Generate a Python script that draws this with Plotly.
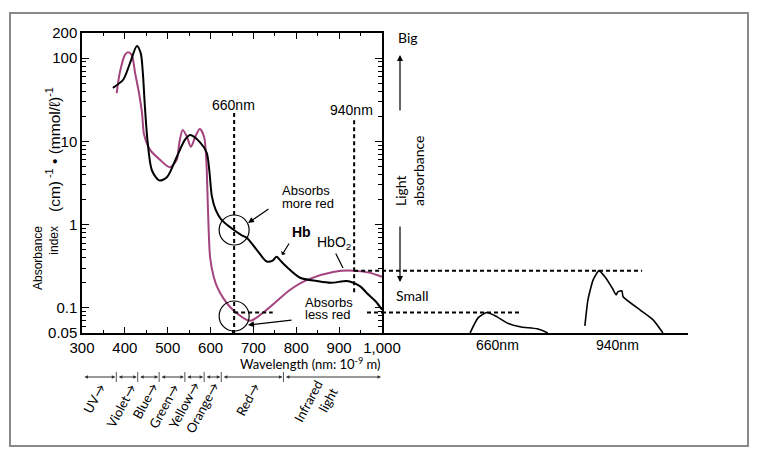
import math
import plotly.graph_objects as go

# ---------------- data ----------------
hb_wl = [372, 396, 412, 428, 437, 442, 447, 453, 463, 480, 498, 521, 540, 552, 575, 591, 597, 603, 612,
         625, 652, 672, 685, 710, 731, 745, 754, 765, 778, 809, 848, 880, 918, 933, 950, 965, 985, 1000]
hb_val = [44, 55, 87, 140, 115, 66, 25, 10, 4.5, 3.4, 3.7, 6.5, 10.4, 11.9, 9.8, 7.3, 4.5, 2.2, 1.5,
          1.15, 0.88, 0.75, 0.69, 0.48, 0.36, 0.37, 0.41, 0.36, 0.31, 0.23, 0.21, 0.2, 0.21, 0.2, 0.18, 0.15, 0.12, 0.095]

hbo2_wl = [381, 388, 400, 407, 416, 424, 433, 440, 445, 459, 482, 505, 521, 527, 535, 545, 554, 566, 575, 585,
           590, 594, 599, 607, 615, 630, 652, 692, 731, 785, 825, 886, 932, 970, 1000]
hbo2_val = [38, 66, 109, 118, 109, 66, 38, 22, 12, 7.9, 6.0, 4.9, 6.0, 9.6, 13.7, 11.3, 8.6, 11.9, 14.1, 11.3,
            6.0, 1.5, 0.40, 0.24, 0.18, 0.13, 0.095, 0.070, 0.095, 0.164, 0.217, 0.27, 0.28, 0.265, 0.236]

# emitted-light sketches (relative position 0-100 on the right-hand panel, absorbance-scale height)
led660_x = [28.8, 31.4, 34.3, 37.6, 40.8, 45.1, 50.7, 54.2]
led660_y = [0.05, 0.0758, 0.088, 0.078, 0.066, 0.0592, 0.056, 0.05]
led940_x = [66.3, 67.3, 69.0, 70.9, 72.9, 75.2, 76.5, 77.1, 78.4, 78.8, 84.3, 88.6, 91.8]
led940_y = [0.0608, 0.125, 0.217, 0.28, 0.235, 0.174, 0.143, 0.156, 0.160, 0.136, 0.0946, 0.0718, 0.05]

red_wl = 655
ir_wl = 935
red_level = 0.088
ir_level = 0.28

x_ticks = [300, 400, 500, 600, 700, 800, 900, 1000]
x_ticktext = ['300', '400', '500', '600', '700', '800', '900', '1,000']
y_ticks = [0.05, 0.1, 1, 10, 100, 200]
y_ticktext = ['0.05', '0.1', '1', '10', '100', '200']

band_edges = [300, 380, 430, 480, 540, 585, 625, 770, 1000]
band_labels = ['UV→', 'Violet→', 'Blue→', 'Green→', 'Yellow→', 'Orange→', 'Red→', 'Infrared<br>light']
band_label_x = [328, 391, 447, 491, 538, 580, 687, 844]
band_label_y = [399, 406, 401, 406, 405, 408, 399, 405]

W, H = 760, 460
def px(x): return x / W
def py(y): return 1 - y / H

ARIAL = 'Liberation Sans'
CAL = 'Lato'
MAG = '#a3427e'

fig = go.Figure()

fig.add_trace(go.Scatter(x=hbo2_wl, y=hbo2_val, mode='lines', line=dict(color=MAG, width=2, shape='spline', smoothing=0.8),
                         hoverinfo='skip'))
fig.add_trace(go.Scatter(x=hb_wl, y=hb_val, mode='lines', line=dict(color='black', width=2, shape='spline', smoothing=0.8),
                         hoverinfo='skip'))

dash = dict(color='black', width=2, dash='4px,3px')
fig.add_trace(go.Scatter(x=[red_wl, red_wl], y=[22, 0.05], mode='lines', line=dash, hoverinfo='skip'))
fig.add_trace(go.Scatter(x=[ir_wl, ir_wl], y=[18, 0.143], mode='lines', line=dash, hoverinfo='skip'))
fig.add_trace(go.Scatter(x=[red_wl, 745], y=[red_level, red_level], mode='lines', line=dash, hoverinfo='skip'))
fig.add_trace(go.Scatter(x=[965, 1000], y=[red_level, red_level], mode='lines', line=dash, hoverinfo='skip'))
fig.add_trace(go.Scatter(x=[ir_wl, 1000], y=[ir_level, ir_level], mode='lines', line=dash, hoverinfo='skip'))
fig.add_trace(go.Scatter(x=[0, 45.1], y=[red_level, red_level], xaxis='x2', yaxis='y', mode='lines', line=dash, hoverinfo='skip'))
fig.add_trace(go.Scatter(x=[0, 85], y=[ir_level, ir_level], xaxis='x2', yaxis='y', mode='lines', line=dash, hoverinfo='skip'))
fig.add_trace(go.Scatter(x=led660_x, y=led660_y, xaxis='x2', yaxis='y', mode='lines',
                         line=dict(color='black', width=1.6, shape='spline', smoothing=0.6), hoverinfo='skip'))
fig.add_trace(go.Scatter(x=led940_x, y=led940_y, xaxis='x2', yaxis='y', mode='lines',
                         line=dict(color='black', width=1.6, shape='spline', smoothing=0.5), hoverinfo='skip'))

ymin, ymax = math.log10(0.05) - 0.001, math.log10(200) + 0.001
minor_y = [0.06, 0.07, 0.08, 0.09] + [k / 10 for k in range(2, 10)] + list(range(2, 10)) + [k * 10 for k in range(2, 10)]

fig.update_layout(
    width=W, height=H, margin=dict(l=0, r=0, t=0, b=0, pad=0, autoexpand=False),
    paper_bgcolor='white', plot_bgcolor='white', showlegend=False,
    xaxis=dict(domain=[px(82), px(382)], range=[300, 1000], anchor='y', automargin=False,
               tickvals=x_ticks, ticktext=x_ticktext, ticks='inside', ticklen=6, tickcolor='black',
               showline=True, linecolor='black', linewidth=1.5, mirror='ticks',
               minor=dict(tickvals=[350, 450, 550, 650, 750, 850, 950], ticks='inside', ticklen=3, tickcolor='black', showgrid=False),
               showgrid=False, zeroline=False,
               tickfont=dict(family=ARIAL, size=15, color='black')),
    yaxis=dict(type='log', domain=[py(333), py(33)], range=[ymin, ymax], anchor='x', automargin=False,
               tickvals=y_ticks, ticktext=y_ticktext, ticks='inside', ticklen=7, tickcolor='black',
               showline=True, linecolor='black', linewidth=1.5, mirror='ticks',
               minor=dict(tickvals=minor_y, ticks='inside', ticklen=4, tickcolor='black', showgrid=False),
               showgrid=False, zeroline=False,
               tickfont=dict(family=ARIAL, size=15, color='black')),
    xaxis2=dict(domain=[px(382), px(688)], range=[0, 100], anchor='y', automargin=False,
                showline=True, linecolor='black', linewidth=1.5, showticklabels=False, ticks='',
                showgrid=False, zeroline=False),
)

shapes = []
shapes.append(dict(type='rect', xref='paper', yref='paper', x0=px(10), x1=px(748), y0=py(446), y1=py(13),
                   line=dict(color='#8a8a8a', width=2)))
for cy in (230, 316):
    shapes.append(dict(type='circle', xref='x', yref='paper', x0=red_wl - 35, x1=red_wl + 35,
                       y0=py(cy + 15), y1=py(cy - 15), line=dict(color='black', width=1.2)))
for e in band_edges[1:-1]:
    shapes.append(dict(type='line', xref='x', yref='paper', x0=e, x1=e, y0=py(382), y1=py(372),
                       line=dict(color='#555', width=1)))
fig.update_layout(shapes=shapes)

ann = []
def txt(x, y, s, size=13, family=ARIAL, xref='paper', yref='paper', **kw):
    d = dict(x=x, y=y, xref=xref, yref=yref, text=s, showarrow=False, xanchor='center', yanchor='middle',
             font=dict(family=family, size=size, color='black'))
    d.update(kw)
    ann.append(d)

def arrow(hx, hy, ax, ay, head=2, size=1, width=1.2, side='end', xref='paper', yref='paper'):
    ann.append(dict(x=hx, y=hy, xref=xref, yref=yref, ax=ax, ay=ay, axref='pixel', ayref='pixel',
                    text='', showarrow=True, arrowhead=head, arrowsize=size, arrowwidth=width,
                    arrowcolor='black', arrowside=side, standoff=0, startstandoff=0))

txt(px(46), py(258), 'Absorbance<br>index', size=12, textangle=-90, align='right')
txt(px(53), py(149), '(cm)<sup> -1</sup> • (mmol/ℓ)<sup>-1</sup>', size=15.5, textangle=-90)
txt(red_wl - 1, py(105), '660nm', size=14, xref='x')
txt(929, py(110), '940nm', size=14, xref='x')
txt(px(280), py(191), 'Absorbs', size=13, xanchor='left')
txt(px(280), py(203), 'more red', size=13, xanchor='left')
txt(px(303), py(302), 'Absorbs', size=13, xanchor='left')
txt(px(303), py(314), 'less red', size=13, xanchor='left')
arrow(px(248), py(223), 22, -15)
arrow(px(248), py(325), 45, -5)
txt(px(301), py(232), '<b>Hb</b>', size=14)
txt(px(334), py(243), 'HbO<sub>2</sub>', size=14)
arrow(px(282), py(255), 8, -13, head=1, size=0.8)
arrow(px(343), py(268), -8, -16, head=0)
txt(px(408), py(38), 'Big', size=14, family=CAL)
arrow(px(400), py(55), 0, 57, head=2, size=1)
txt(px(410), py(171), 'Light<br>absorbance', size=14, family=CAL, textangle=-90, align='left')
arrow(px(400), py(282), 0, -57, head=2, size=1)
txt(px(412), py(295), 'Small', size=14, family=CAL)
txt(37.9, py(345), '660nm', size=14, xref='x2')
txt(76.8, py(345), '940nm', size=14, xref='x2')
txt(px(310), py(363), 'Wavelength (nm: 10<sup>-9</sup> m)', size=13, family=CAL)
for a, b in zip(band_edges[:-1], band_edges[1:]):
    ann.append(dict(x=b, y=py(377), xref='x', yref='paper', ax=a, ay=0, axref='x', ayref='pixel',
                    text='', showarrow=True, arrowhead=2, arrowsize=0.7, arrowwidth=1, arrowside='end+start',
                    arrowcolor='#333', standoff=1, startstandoff=1))
for s, bx, by in zip(band_labels, band_label_x, band_label_y):
    txt(bx, py(by), s, size=13, family=CAL, xref='x', textangle=-62, align='right')

fig.update_layout(annotations=ann)

fig.write_html('out.html', config={'displayModeBar': False},
               post_script="document.body.style.margin='0';")
